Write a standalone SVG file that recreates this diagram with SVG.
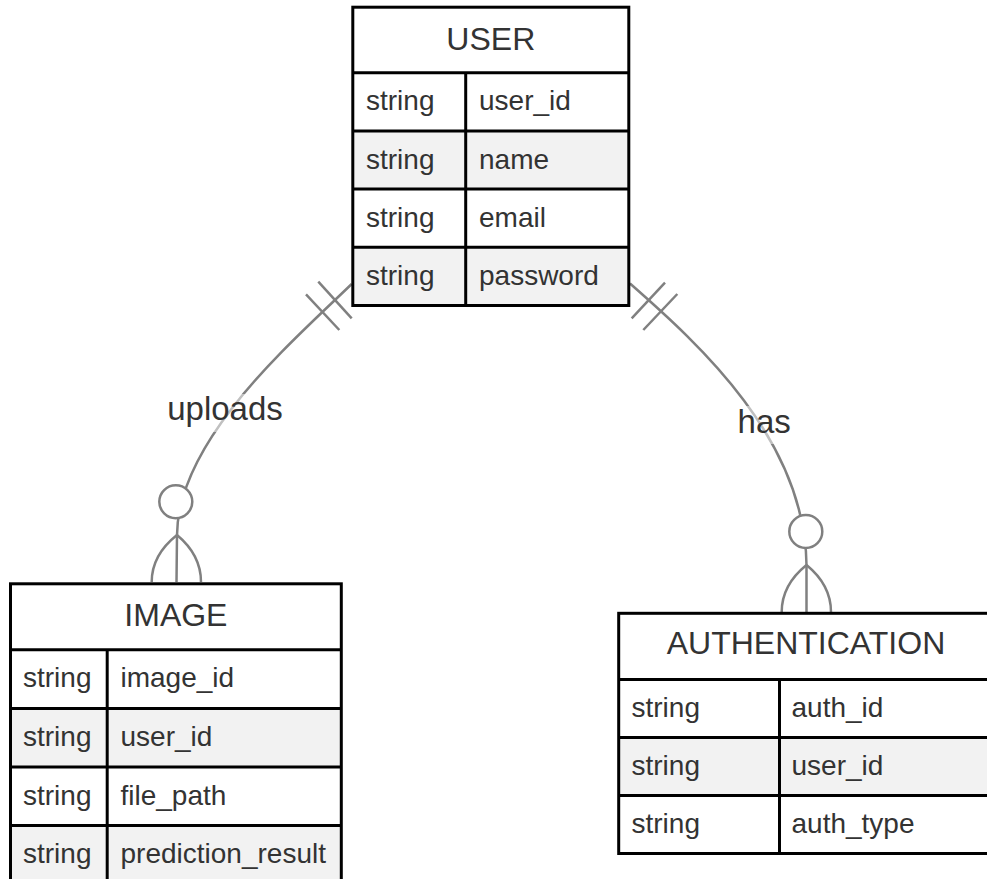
<svg xmlns="http://www.w3.org/2000/svg" width="987" height="879" viewBox="0 0 987 879">
  <style>
    .bg{fill:#fff}
    .odd{fill:#fff}
    .even{fill:#f2f2f2}
    .box{fill:none;stroke:#000;stroke-width:3}
    .div{stroke:#000;stroke-width:3}
    .title{font-family:"Liberation Sans",Arial,sans-serif;font-size:32px;fill:#333;text-anchor:middle}
    .attr{font-family:"Liberation Sans",Arial,sans-serif;font-size:28px;fill:#333}
    .rel{fill:none;stroke:#808080;stroke-width:2.5}
    .mark{fill:#fff;stroke:#808080;stroke-width:2.5}
    .lbl{font-family:"Liberation Sans",Arial,sans-serif;font-size:33px;fill:#333;text-anchor:middle}
    .lblbg{fill:#fff;opacity:0.5}
  </style>
  <rect class="bg" x="0" y="0" width="987" height="879"/>

  <!-- relationships -->
  <g id="connectors">
    <!-- USER exactly one, IMAGE zero or more: uploads -->
    <path class="rel" d="M351.7,284 C289.7,344 178,440 177,535 L176.5,582"/>
    <line class="rel" x1="318.3" y1="281.7" x2="351.7" y2="318.3"/>
    <line class="rel" x1="306" y1="294.3" x2="339.3" y2="330"/>
    <circle class="mark" cx="175.8" cy="501.7" r="16.5"/>
    <path class="rel" d="M177,535 Q151.7,555 151.7,582"/>
    <path class="rel" d="M177,535 Q201,555 201,582"/>
    <rect class="lblbg" x="166" y="394" width="118" height="38"/>
    <text class="lbl" x="225" y="420">uploads</text>

    <!-- USER exactly one, AUTHENTICATION zero or more: has -->
    <path class="rel" d="M630,283.5 C700,345 805,440 806.5,565 L806.5,612"/>
    <line class="rel" x1="631.7" y1="318.3" x2="665" y2="282.7"/>
    <line class="rel" x1="643.3" y1="330" x2="677.3" y2="294"/>
    <circle class="mark" cx="805.8" cy="531.5" r="16.5"/>
    <path class="rel" d="M806.5,565 Q781.7,585 781.7,612"/>
    <path class="rel" d="M806.5,565 Q831,585 831,612"/>
    <rect class="lblbg" x="736" y="406" width="56" height="38"/>
    <text class="lbl" x="764.2" y="432.7">has</text>
  </g>

  <!-- USER entity -->
  <g id="USER">
    <rect class="odd" x="352.8" y="7.2" width="276" height="65.5"/>
    <rect class="odd" x="352.8" y="72.7" width="276" height="58.2"/>
    <rect class="even" x="352.8" y="130.9" width="276" height="58.2"/>
    <rect class="odd" x="352.8" y="189.1" width="276" height="58.2"/>
    <rect class="even" x="352.8" y="247.3" width="276" height="58.2"/>
    <line class="div" x1="352.8" y1="72.7" x2="628.8" y2="72.7"/>
    <line class="div" x1="352.8" y1="130.9" x2="628.8" y2="130.9"/>
    <line class="div" x1="352.8" y1="189.1" x2="628.8" y2="189.1"/>
    <line class="div" x1="352.8" y1="247.3" x2="628.8" y2="247.3"/>
    <line class="div" x1="465.7" y1="72.7" x2="465.7" y2="305.5"/>
    <rect class="box" x="352.8" y="7.2" width="276" height="298.3"/>
    <text class="title" x="490.8" y="50">USER</text>
    <text class="attr" x="366" y="110.3">string</text>
    <text class="attr" x="479" y="110.3">user_id</text>
    <text class="attr" x="366" y="168.5">string</text>
    <text class="attr" x="479" y="168.5">name</text>
    <text class="attr" x="366" y="226.7">string</text>
    <text class="attr" x="479" y="226.7">email</text>
    <text class="attr" x="366" y="284.9">string</text>
    <text class="attr" x="479" y="284.9">password</text>
  </g>

  <!-- IMAGE entity -->
  <g id="IMAGE">
    <rect class="odd" x="10.5" y="583.8" width="330.8" height="66"/>
    <rect class="odd" x="10.5" y="649.8" width="330.8" height="58.6"/>
    <rect class="even" x="10.5" y="708.4" width="330.8" height="58.6"/>
    <rect class="odd" x="10.5" y="767" width="330.8" height="58.6"/>
    <rect class="even" x="10.5" y="825.6" width="330.8" height="58.6"/>
    <line class="div" x1="10.5" y1="649.8" x2="341.3" y2="649.8"/>
    <line class="div" x1="10.5" y1="708.4" x2="341.3" y2="708.4"/>
    <line class="div" x1="10.5" y1="767" x2="341.3" y2="767"/>
    <line class="div" x1="10.5" y1="825.6" x2="341.3" y2="825.6"/>
    <line class="div" x1="107.2" y1="649.8" x2="107.2" y2="884.2"/>
    <rect class="box" x="10.5" y="583.8" width="330.8" height="300.4"/>
    <text class="title" x="175.9" y="626">IMAGE</text>
    <text class="attr" x="23" y="687.4">string</text>
    <text class="attr" x="120.5" y="687.4">image_id</text>
    <text class="attr" x="23" y="746">string</text>
    <text class="attr" x="120.5" y="746">user_id</text>
    <text class="attr" x="23" y="804.6">string</text>
    <text class="attr" x="120.5" y="804.6">file_path</text>
    <text class="attr" x="23" y="863.2">string</text>
    <text class="attr" x="120.5" y="863.2">prediction_result</text>
  </g>

  <!-- AUTHENTICATION entity -->
  <g id="AUTHENTICATION">
    <rect class="odd" x="618.7" y="613.3" width="374.6" height="66.2"/>
    <rect class="odd" x="618.7" y="679.5" width="374.6" height="58"/>
    <rect class="even" x="618.7" y="737.5" width="374.6" height="58"/>
    <rect class="odd" x="618.7" y="795.5" width="374.6" height="58"/>
    <line class="div" x1="618.7" y1="679.5" x2="993.3" y2="679.5"/>
    <line class="div" x1="618.7" y1="737.5" x2="993.3" y2="737.5"/>
    <line class="div" x1="618.7" y1="795.5" x2="993.3" y2="795.5"/>
    <line class="div" x1="779.5" y1="679.5" x2="779.5" y2="853.5"/>
    <rect class="box" x="618.7" y="613.3" width="374.6" height="240.2"/>
    <text class="title" x="806" y="654.3">AUTHENTICATION</text>
    <text class="attr" x="631.5" y="717.1">string</text>
    <text class="attr" x="791.5" y="717.1">auth_id</text>
    <text class="attr" x="631.5" y="775.1">string</text>
    <text class="attr" x="791.5" y="775.1">user_id</text>
    <text class="attr" x="631.5" y="833.1">string</text>
    <text class="attr" x="791.5" y="833.1">auth_type</text>
  </g>
</svg>
